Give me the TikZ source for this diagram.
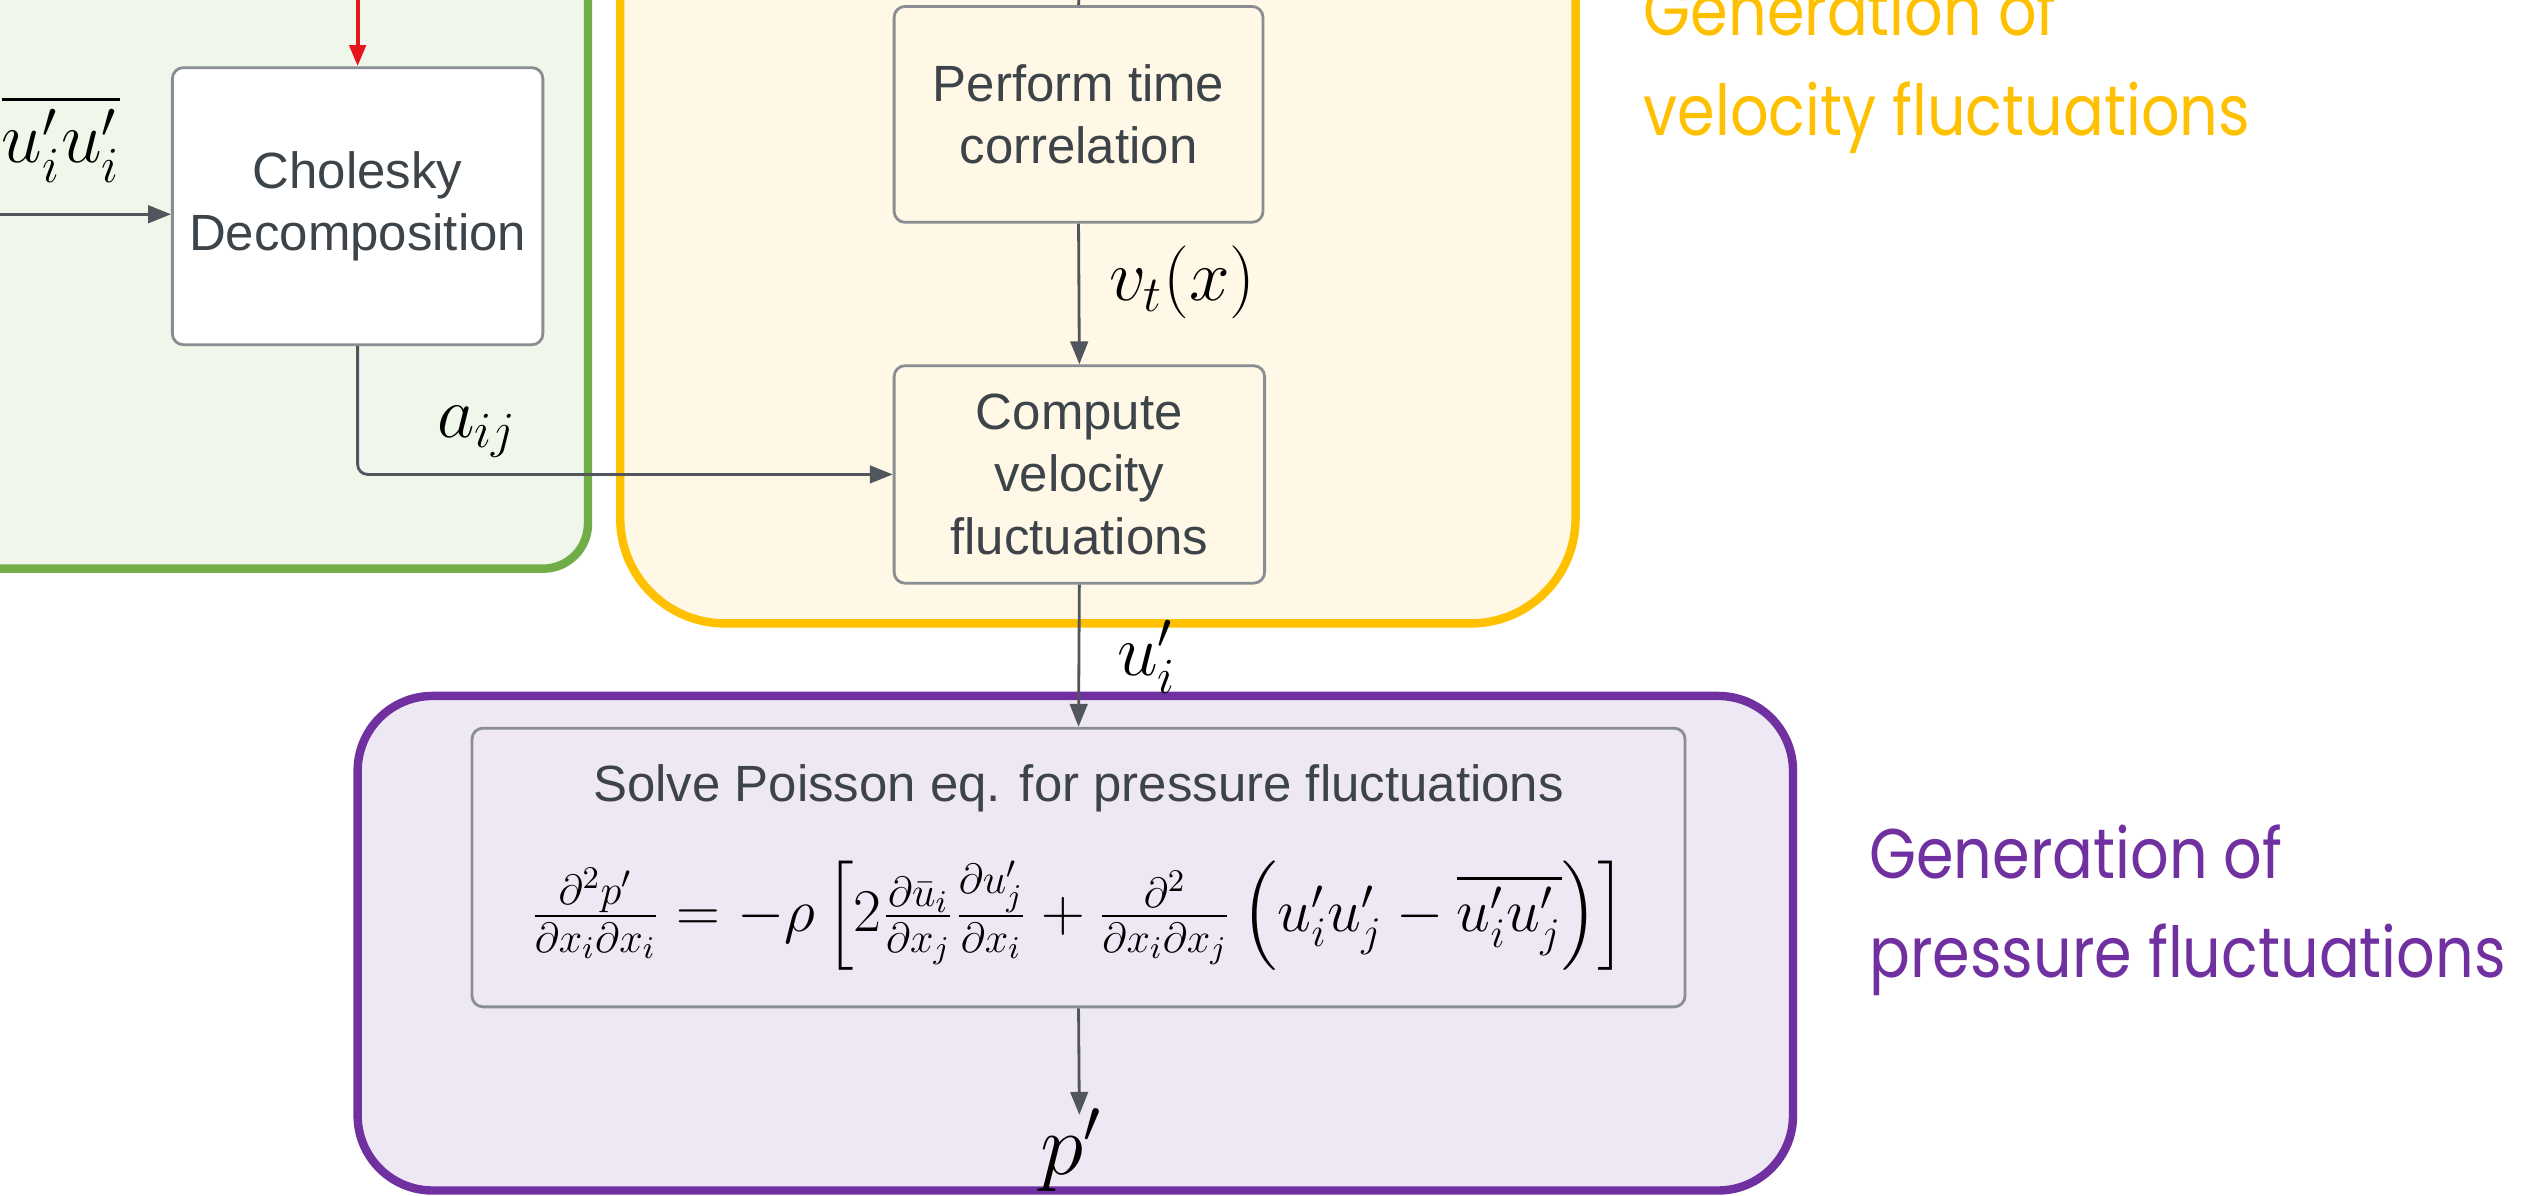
\documentclass[tikz,border=0pt]{standalone}
\usepackage{fontspec}
\usepackage{amsmath}
\setmainfont{Liberation Sans}
\newfontfamily\headfont[FakeStretch=0.86]{Poppins}
\usetikzlibrary{arrows.meta}
\definecolor{grnline}{HTML}{70AD47}
\definecolor{grnfill}{HTML}{EFF6EA}
\definecolor{ylwline}{HTML}{FFC000}
\definecolor{ylwfill}{HTML}{FFF8E6}
\definecolor{prpline}{HTML}{7030A0}
\definecolor{prpfill}{HTML}{EEE8F4}
\definecolor{boxline}{HTML}{8A8E92}
\definecolor{boxtext}{HTML}{3D4449}
\definecolor{conn}{HTML}{50565C}
\definecolor{redarrow}{HTML}{E8141B}
\def\U{0.01611cm}
\tikzset{
  container/.style={line width=2.4pt},
  procbox/.style={draw=boxline, line width=0.8pt, rounded corners=0.11cm,
    font=\fontsize{14.5}{17.8}\selectfont, text=boxtext, align=center, inner sep=0pt},
  flow/.style={draw=conn, line width=0.8pt, -{Triangle[length=6.5pt,width=5pt]}},
  mathlbl/.style={font=\fontsize{20}{24}\selectfont, text=black, inner sep=0pt},
  headlbl/.style={font=\headfont\fontsize{20}{28.3}\selectfont, align=left, anchor=west, inner sep=0pt}
}
\begin{document}
\begin{tikzpicture}[x=0.01611cm,y=-0.01611cm]
\useasboundingbox (0,0) rectangle (1568,742);
% containers
\path[container, draw=grnline, fill=grnfill, rounded corners=0.45cm] (-120,-120) rectangle (365,353);
\path[container, draw=ylwline, fill=ylwfill, rounded corners=1.05cm] (385,-200) rectangle (978,387);
\path[container, draw=prpline, fill=prpfill, rounded corners=0.75cm] (222,432) rectangle (1113,739);
% process boxes
\node[procbox, fill=white, minimum width=230*\U, minimum height=172*\U] (chol) at (222,128) {Cholesky\\Decomposition};
\node[procbox, fill=ylwfill, minimum width=229*\U, minimum height=134*\U] (perf) at (669.5,71) {Perform time\\correlation};
\node[procbox, fill=ylwfill, minimum width=230*\U, minimum height=135*\U] (comp) at (670,294.5) {Compute\\velocity\\fluctuations};
\node[procbox, fill=prpfill, minimum width=753*\U, minimum height=173*\U] (pois) at (669.5,538.5)
  {Solve Poisson eq. for pressure fluctuations\\[13pt]
   {\color{black}\fontsize{18.5}{22}\selectfont
   $\tfrac{\partial^2 p'}{\partial x_i\partial x_i} = -\rho\left[2\tfrac{\partial \bar u_i}{\partial x_j}\tfrac{\partial u_j'}{\partial x_i} + \tfrac{\partial^2}{\partial x_i\partial x_j}\left(u_i'u_j' - \overline{u_i'u_j'}\right)\right]$}};
% free ends
\coordinate (redsrc) at (222,-5);
\coordinate (insrc) at (-5,133);
\coordinate (topsrc) at (670,-5);
\coordinate (ptip) at (670,692);
% connectors
\draw[draw=redarrow, line width=1.2pt, -{Triangle[length=6pt,width=4.6pt]}] (redsrc) -- (chol.north);
\draw[flow] (insrc) -- (chol.west |- insrc);
\draw[draw=conn, line width=0.8pt] (topsrc) -- (perf.north);
\draw[flow] (perf.south) -- (comp.north);
\draw[flow, rounded corners=0.1cm] (chol.south) |- (comp.west);
\draw[flow] (comp.south) -- (pois.north);
\draw[flow] (pois.south) -- (ptip);
% labels
\node[mathlbl] (lbluu) at (38,86) {$\overline{u_i'u_i'}$};
\node[mathlbl] (lblaij) at (296,268) {$a_{ij}$};
\node[mathlbl] (lblvt) at (734,175) {$v_t(x)$};
\node[mathlbl] (lblui) at (712,408) {$u_i'$};
\node[mathlbl, font=\fontsize{25}{29}\selectfont] (lblp) at (665,714) {$p'$};
% headings
\node[headlbl, text=ylwline] (headv) at (1020,42) {Generation of\\velocity fluctuations};
\node[headlbl, text=prpline] (headp) at (1160,565) {Generation of\\pressure fluctuations};
\end{tikzpicture}
\end{document}
